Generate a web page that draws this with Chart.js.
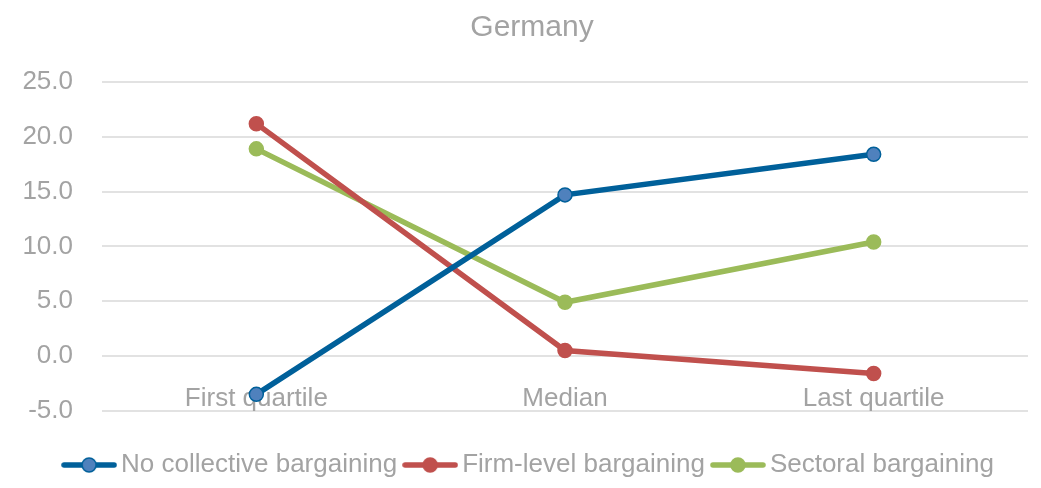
<!DOCTYPE html>
<html>
<head>
<meta charset="utf-8">
<script src="https://cdn.jsdelivr.net/npm/chart.js@4"></script>
<style>
  html, body { margin: 0; padding: 0; background: #fff; }
  #wrap { width: 1041px; height: 488px; }
</style>
</head>
<body>
<div id="wrap"><canvas id="germanyChart"></canvas></div>
<script>
const categories = ["First quartile", "Median", "Last quartile"];
const noCollective = [-3.5, 14.7, 18.4];
const firmLevel = [21.2, 0.5, -1.6];
const sectoral = [18.9, 4.9, 10.4];
const yTicks = [-5, 0, 5, 10, 15, 20, 25];

const FONT = "'Liberation Sans', Arial, sans-serif";
const GREY = "#a3a3a3";

// legend swatch: short line with the marker in the middle
function swatch(line, fill, border) {
  const c = document.createElement("canvas");
  c.width = 56; c.height = 18;
  const g = c.getContext("2d");
  g.strokeStyle = line; g.lineWidth = 5.5; g.lineCap = "round";
  g.beginPath(); g.moveTo(3, 9); g.lineTo(53, 9); g.stroke();
  g.fillStyle = fill; g.strokeStyle = border; g.lineWidth = 1.5;
  g.beginPath(); g.arc(28, 9, 7, 0, Math.PI * 2); g.fill(); g.stroke();
  return c;
}

const series = [
  { label: "No collective bargaining", data: noCollective, line: "#00609a", fill: "#4f81bd", border: "#00609a" },
  { label: "Firm-level bargaining", data: firmLevel, line: "#c0504d", fill: "#c0504d", border: "#c0504d" },
  { label: "Sectoral bargaining", data: sectoral, line: "#9bbb59", fill: "#9bbb59", border: "#9bbb59" },
];

const ctx = document.getElementById("germanyChart").getContext("2d");

let chart = new Chart(ctx, {
  type: "line",
  data: {
    labels: categories,
    datasets: series.map((s) => ({
      label: s.label,
      data: s.data,
      borderColor: s.line,
      borderWidth: 5.5,
      backgroundColor: s.fill,
      pointStyle: "circle",
      pointBackgroundColor: s.fill,
      pointBorderColor: s.border,
      pointBorderWidth: 1.5,
      pointRadius: 7,
      tension: 0,
    })),
  },
  options: {
    responsive: true,
    maintainAspectRatio: false,
    animation: false,
    layout: { padding: { left: 23, right: 0, top: 4, bottom: 0 } },
    plugins: {
      title: {
        display: true,
        text: "Germany",
        color: GREY,
        font: { family: FONT, size: 30, weight: "normal" },
        padding: { top: 6, bottom: 36 },
      },
      legend: {
        position: "bottom",
        // empty title only used as a spacer above the legend row
        title: { display: true, text: " ", font: { size: 1 }, padding: { top: 0, bottom: 26 } },
        labels: {
          color: GREY,
          font: { family: FONT, size: 26 },
          usePointStyle: true,
          pointStyleWidth: 38,
          padding: 14,
          generateLabels: (c) =>
            c.data.datasets.map((d, i) => ({
              text: d.label,
              pointStyle: swatch(series[i].line, series[i].fill, series[i].border),
              fontColor: GREY,
              lineWidth: 0,
              datasetIndex: i,
            })),
        },
      },
      tooltip: { enabled: false },
    },
    scales: {
      x: {
        position: { y: 0 },
        offset: true,
        grid: { display: false },
        border: { display: false },
        ticks: { color: GREY, font: { family: FONT, size: 26 }, padding: 19 },
      },
      y: {
        min: -5,
        max: 25,
        afterBuildTicks: (axis) => { axis.ticks = yTicks.map((v) => ({ value: v })); },
        afterFit: (axis) => { axis.width = 79; },
        grid: { color: "#e2e2e2", lineWidth: 2, drawTicks: false },
        border: { display: false },
        ticks: {
          color: GREY,
          font: { family: FONT, size: 26 },
          padding: 29,
          callback: (v) => v.toFixed(1),
        },
      },
      // blank strip on the right so the plot stops short of the edge
      yRight: {
        position: "right",
        afterFit: (axis) => { axis.width = 13; },
        grid: { display: false },
        border: { display: false },
        ticks: { display: false },
      },
    },
  },
});
</script>
</body>
</html>
